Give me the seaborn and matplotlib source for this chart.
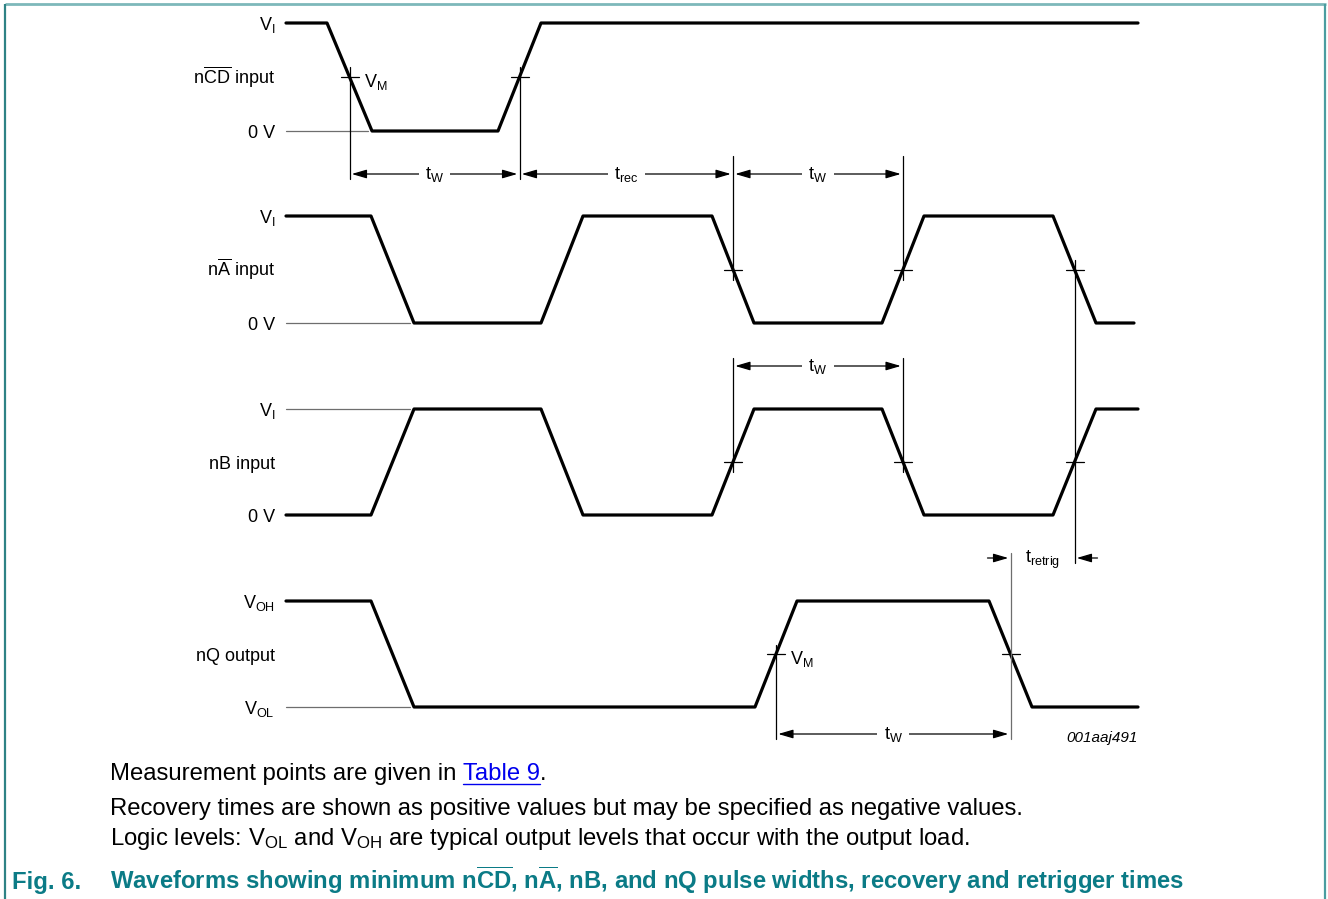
import numpy as np
import pandas as pd
import matplotlib
matplotlib.use("Agg")
import matplotlib.pyplot as plt
import seaborn as sns

# ---------------- data (time breakpoints and logic levels) ----------------
ncd_t = [286, 327, 372, 498, 541, 1138]
ncd_lv = [1, 1, 0, 0, 1, 1]
na_t = [286, 371, 414, 541, 583, 712, 754, 882, 924, 1053, 1096, 1134]
na_lv = [1, 1, 0, 0, 1, 1, 0, 0, 1, 1, 0, 0]
nb_t = [286, 371, 414, 541, 583, 712, 754, 882, 924, 1053, 1096, 1138]
nb_lv = [0, 0, 1, 1, 0, 0, 1, 1, 0, 0, 1, 1]
nq_t = [286, 371, 414, 755, 797, 989, 1032, 1138]
nq_lv = [1, 1, 0, 0, 1, 1, 0, 0]

signal_names = ["nCD", "nA", "nB", "nQ"]
signal_labels = [r"n$\overline{CD}$ input", r"n$\overline{A}$ input", "nB input", "nQ output"]
high_labels = [r"V$_{I}$", r"V$_{I}$", r"V$_{I}$", r"V$_{OH}$"]
low_labels = ["0 V", "0 V", "0 V", r"V$_{OL}$"]

notes = [
    "Recovery times are shown as positive values but may be specified as negative values.",
    r"Logic levels: V$_{OL}$ and V$_{OH}$ are typical output levels that occur with the output load.",
]
caption_num = "Fig. 6."
caption = (r"Waveforms showing minimum n$\overline{\mathbf{CD}}$, n$\overline{\mathbf{A}}$, "
           r"nB, and nQ pulse widths, recovery and retrigger times")

# ---------------- layout ----------------
row_high = [23, 216, 409, 601]
row_low = [131, 323, 515, 707]
x_left = 286
label_x = 275

sns.set_theme(style="white")
plt.rcParams["font.family"] = ["Liberation Sans", "DejaVu Sans"]
plt.rcParams["text.color"] = "black"
plt.rcParams["mathtext.fontset"] = "custom"
plt.rcParams["mathtext.rm"] = "Liberation Sans"
plt.rcParams["mathtext.it"] = "Liberation Sans:italic"
plt.rcParams["mathtext.bf"] = "Liberation Sans:bold"
plt.rcParams["mathtext.default"] = "regular"

fig = plt.figure(figsize=(13.28, 8.99), dpi=100)
ax = fig.add_axes([0, 0, 1, 1])

times = [ncd_t, na_t, nb_t, nq_t]
levels = [ncd_lv, na_lv, nb_lv, nq_lv]
rows = []
for name, t, lv, hi, lo in zip(signal_names, times, levels, row_high, row_low):
    for ti, li in zip(t, lv):
        rows.append({"signal": name, "t": ti, "y": lo + (hi - lo) * li})
df = pd.DataFrame(rows)

sns.lineplot(data=df, x="t", y="y", units="signal", estimator=None, sort=False,
             color="black", linewidth=2.3, ax=ax, legend=False)
ax.set_xlim(0, 1328)
ax.set_ylim(899, 0)
ax.axis("off")


def mid_crossings(t, lv):
    out = []
    for i in range(len(t) - 1):
        if lv[i] != lv[i + 1]:
            out.append(0.5 * (t[i] + t[i + 1]))
    return out


cross = [mid_crossings(t, lv) for t, lv in zip(times, levels)]
mid = [(h + l) / 2 for h, l in zip(row_high, row_low)]

# reference (thin grey) level lines where the waveform does not start at that level
for i, (t, lv) in enumerate(zip(times, levels)):
    first_other = None
    start = lv[0]
    for ti, li in zip(t, lv):
        if li != start:
            first_other = ti
            break
    yref = row_low[i] if start == 1 else row_high[i]
    ax.plot([x_left, first_other - 4], [yref, yref], color="#6e6e6e", lw=0.9)

# left labels
for i in range(4):
    ax.text(label_x, row_high[i] + 7, high_labels[i], ha="right", va="baseline", fontsize=13)
    ax.text(label_x, mid[i] + 7, signal_labels[i], ha="right", va="baseline", fontsize=13)
    ax.text(label_x, row_low[i] + 7, low_labels[i], ha="right", va="baseline", fontsize=13)

# crosshair ticks + vertical measurement lines
def crosshair(x, y, y0, y1, color="black"):
    ax.plot([x - 9, x + 9], [y, y], color="black", lw=0.9)
    ax.plot([x, x], [y0, y1], color=color, lw=0.9)

crosshair(cross[0][0], mid[0], 67, 179)
crosshair(cross[0][1], mid[0], 67, 179)
crosshair(cross[1][2], mid[1], 156, 280)
crosshair(cross[1][3], mid[1], 156, 280)
crosshair(cross[1][4], mid[1], 260, 563)
crosshair(cross[2][2], mid[2], 358, 472)
crosshair(cross[2][3], mid[2], 358, 472)
ax.plot([cross[2][4] - 9, cross[2][4] + 9], [mid[2], mid[2]], color="black", lw=0.9)
crosshair(cross[3][1], mid[3], 645, 739)
crosshair(cross[3][2], mid[3], 553, 739, color="#6e6e6e")

ax.text(cross[0][0] + 14, mid[0] + 10, r"V$_{M}$", ha="left", va="baseline", fontsize=13)
ax.text(cross[3][1] + 14, mid[3] + 10, r"V$_{M}$", ha="left", va="baseline", fontsize=13)

ap = dict(arrowstyle="<|-|>,head_length=0.75,head_width=0.22", color="black", lw=0.9,
          shrinkA=1.6, shrinkB=1.6)

def dim(x1, x2, y, label):
    ax.annotate("", xy=(x2, y), xytext=(x1, y), arrowprops=ap)
    ax.text((x1 + x2) / 2, y, label, ha="center", va="center", fontsize=13,
            bbox=dict(facecolor="white", edgecolor="none", pad=4.5))

dim(cross[0][0], cross[0][1], 174, r"t$_{W}$")
dim(cross[0][1], cross[1][2], 174, r"t$_{rec}$")
dim(cross[1][2], cross[1][3], 174, r"t$_{W}$")
dim(cross[2][2], cross[2][3], 366, r"t$_{W}$")
dim(cross[3][1], cross[3][2], 734, r"t$_{W}$")

# retrigger
ap1 = dict(arrowstyle="-|>,head_length=0.75,head_width=0.22", color="black", lw=0.9,
           shrinkA=0, shrinkB=1.6)
ax.annotate("", xy=(cross[3][2], 558), xytext=(cross[3][2] - 23, 558), arrowprops=ap1)
ax.annotate("", xy=(cross[1][4], 558), xytext=(cross[1][4] + 23, 558), arrowprops=ap1)
ax.text((cross[3][2] + cross[1][4]) / 2, 560, r"t$_{retrig}$", ha="center", va="center", fontsize=13)

ax.text(1138, 742, "001aaj491", ha="right", va="baseline", fontsize=11, style="italic")

# notes
fs = 17.2
fig.canvas.draw()
renderer = fig.canvas.get_renderer()
t1 = ax.text(110, 780, "Measurement points are given in ", ha="left", va="baseline", fontsize=fs)
bb = t1.get_window_extent(renderer=renderer)
x_end = ax.transData.inverted().transform((bb.x1, bb.y0))[0]
t2 = ax.text(x_end, 780, "Table 9", ha="left", va="baseline", fontsize=fs, color="#0000ee")
bb2 = t2.get_window_extent(renderer=renderer)
x_end2 = ax.transData.inverted().transform((bb2.x1, bb2.y0))[0]
ax.plot([x_end, x_end2], [783.5, 783.5], color="#0000ee", lw=1.0)
ax.text(x_end2, 780, ".", ha="left", va="baseline", fontsize=fs)
ax.text(110, 815, notes[0], ha="left", va="baseline", fontsize=fs)
ax.text(110, 845, notes[1], ha="left", va="baseline", fontsize=fs)

cap_color = "#0b7b86"
ax.text(12, 889, caption_num, ha="left", va="baseline", fontsize=fs, fontweight="bold", color=cap_color)
ax.text(110, 889, caption, ha="left", va="baseline", fontsize=fs, fontweight="bold", color=cap_color)

# frame
ax.plot([5, 1326], [4, 4], color="#7db8ba", lw=2.0, solid_capstyle="butt")
ax.plot([5, 5], [4, 899], color="#2e8285", lw=1.6, solid_capstyle="butt")
ax.plot([1325, 1325], [4, 899], color="#4a9da0", lw=1.6, solid_capstyle="butt")

fig.savefig("out.png", dpi=100, facecolor="white")
